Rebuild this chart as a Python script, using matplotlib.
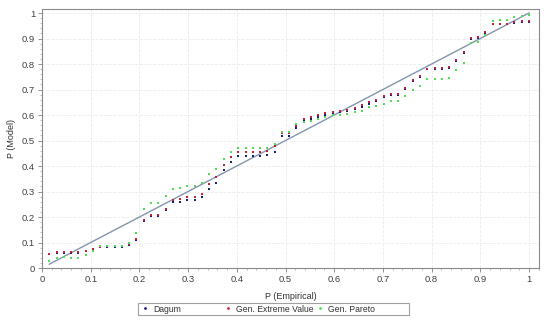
import numpy as np
import matplotlib
matplotlib.use("Agg")
import matplotlib.pyplot as plt
from matplotlib.patches import Rectangle
from matplotlib.lines import Line2D
from matplotlib.ticker import MultipleLocator

plt.rcParams['font.family'] = ['Liberation Sans', 'DejaVu Sans']

n = 67
p_emp = np.arange(1, n + 1) / n

dagum = [0.054, 0.058, 0.058, 0.058, 0.058, 0.066, 0.072, 0.084, 0.084, 0.084,
         0.084, 0.092, 0.110, 0.183, 0.203, 0.203, 0.226, 0.257, 0.258, 0.265,
         0.265, 0.279, 0.310, 0.335, 0.383, 0.416, 0.438, 0.438, 0.438, 0.440,
         0.445, 0.456, 0.518, 0.518, 0.548, 0.575, 0.583, 0.593, 0.600, 0.606,
         0.610, 0.614, 0.622, 0.632, 0.645, 0.654, 0.671, 0.680, 0.680, 0.703,
         0.732, 0.750, 0.780, 0.782, 0.782, 0.784, 0.812, 0.842, 0.898, 0.903,
         0.920, 0.955, 0.955, 0.955, 0.961, 0.966, 0.966]

gev = [0.056, 0.061, 0.061, 0.061, 0.061, 0.068, 0.074, 0.084, 0.085, 0.085,
       0.085, 0.094, 0.114, 0.187, 0.206, 0.208, 0.232, 0.266, 0.270, 0.279,
       0.279, 0.291, 0.331, 0.355, 0.404, 0.435, 0.455, 0.455, 0.455, 0.455,
       0.460, 0.480, 0.530, 0.530, 0.556, 0.583, 0.591, 0.600, 0.606, 0.613,
       0.616, 0.620, 0.629, 0.638, 0.651, 0.659, 0.675, 0.684, 0.684, 0.707,
       0.736, 0.753, 0.782, 0.785, 0.785, 0.787, 0.816, 0.846, 0.903, 0.907,
       0.924, 0.957, 0.957, 0.957, 0.963, 0.968, 0.968]

gpareto = [0.027, 0.039, 0.042, 0.040, 0.040, 0.052, 0.068, 0.085, 0.085, 0.085,
           0.085, 0.100, 0.139, 0.232, 0.256, 0.256, 0.282, 0.310, 0.313, 0.322,
           0.322, 0.334, 0.367, 0.387, 0.429, 0.455, 0.470, 0.470, 0.470, 0.470,
           0.470, 0.487, 0.535, 0.535, 0.565, 0.571, 0.578, 0.585, 0.593, 0.600,
           0.600, 0.603, 0.613, 0.616, 0.630, 0.636, 0.645, 0.655, 0.655, 0.675,
           0.698, 0.713, 0.740, 0.741, 0.741, 0.746, 0.777, 0.805, 0.881, 0.887,
           0.914, 0.969, 0.973, 0.973, 0.983, 0.988, 0.992]

labels = ['Dagum', 'Gen. Extreme Value', 'Gen. Pareto']
colors = ['#1c1c7a', '#c4203c', '#4ee04e']

fig = plt.figure(figsize=(5.5, 3.23), dpi=100)
ax = fig.add_axes([42 / 550, 1 - 268 / 323, 497 / 550, 259 / 323])

ax.plot(p_emp, p_emp, color='#8295aa', lw=1.0, zorder=2)

for y, c in zip([dagum, gev, gpareto], colors):
    ax.plot(p_emp, y, ls='none', marker='s', ms=2.1, mew=0, color=c, zorder=3)

ax.set_xlim(0, 1.0205)
ax.set_ylim(0, 1.0157)
ax.xaxis.set_major_locator(MultipleLocator(0.1))
ax.yaxis.set_major_locator(MultipleLocator(0.1))
ax.xaxis.set_minor_locator(MultipleLocator(0.02))
ax.yaxis.set_minor_locator(MultipleLocator(0.02))
fmt = lambda v, pos: f"{v:.1f}".rstrip('0').rstrip('.') if v else "0"
ax.xaxis.set_major_formatter(fmt)
ax.yaxis.set_major_formatter(fmt)
ax.tick_params(which='major', length=3, width=0.6, color='#808080',
               labelsize=6.8, labelcolor='#404040', pad=2)
ax.tick_params(which='minor', length=1.5, width=0.5, color='#a0a0a0')
ax.grid(True, which='major', color='#ebebeb', lw=0.6, ls='--')
ax.set_axisbelow(True)
for s in ax.spines.values():
    s.set_color('#8a8a8a')
    s.set_linewidth(0.8)

ax.set_xlabel('P (Empirical)', fontsize=6.5, color='#303030', labelpad=6)
ax.set_ylabel('P (Model)', fontsize=6.5, color='#303030', labelpad=4)

# legend box below the plot
fig.patches.append(Rectangle((138 / 550, 1 - 315 / 323), 271 / 550, 12.5 / 323,
                             transform=fig.transFigure, fill=False,
                             edgecolor='#a0a0a0', lw=0.8))
for c, lab, xpos in zip(colors, labels, [143, 226, 318]):
    h = Line2D([], [], ls='none', marker='o', ms=2.0, mew=0, color=c)
    fig.legend([h], [lab], loc='center left',
               bbox_to_anchor=(xpos / 550, 1 - 309 / 323),
               frameon=False, fontsize=6.2,
               handlelength=0.5, handletextpad=0.7, borderpad=0, borderaxespad=0,
               labelcolor='#303030')

fig.savefig('out.png', dpi=100)
